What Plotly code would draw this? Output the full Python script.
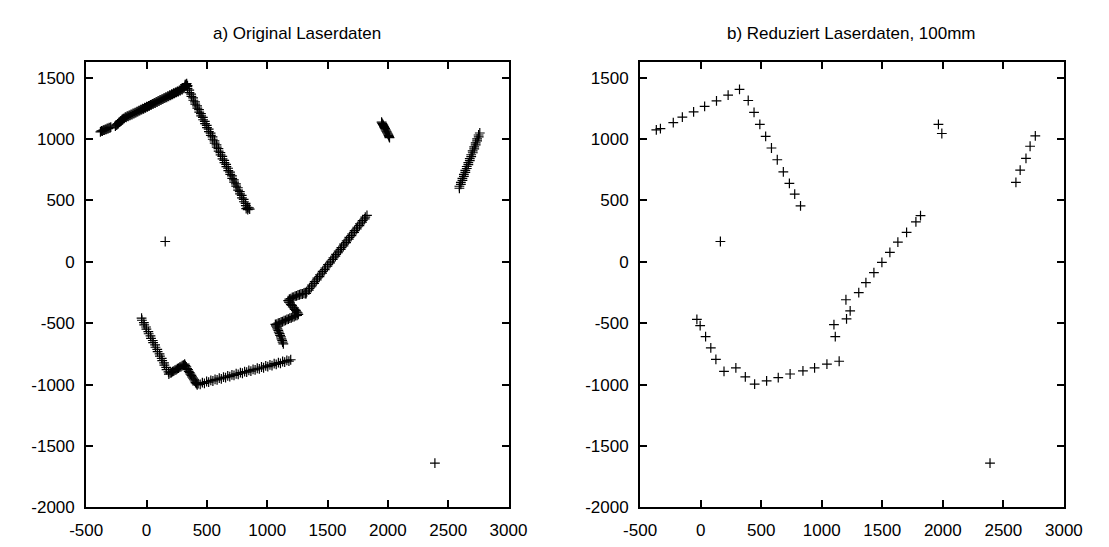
import plotly.graph_objects as go

# ---------------- data ----------------
# a) original laser scan points (dense)
orig_x = [
    # upper left wall
    -382, -374, -366, -358, -350, -342, -334, -326, -318, -310, -302, -296,
    -258, -252, -246, -240, -234, -228, -222, -216, -210, -204, -198, -192, -184, -176,
    -168, -160, -152, -144, -136, -128, -120, -112, -104, -96, -88, -80, -72, -64, -56,
    -48, -40, -32, -24, -16, -8, 0, 8, 16, 24, 32, 40, 48, 56, 64, 72, 80, 88, 96, 104,
    112, 120, 128, 136, 144, 152, 160, 168, 176, 184, 192, 200, 208, 216, 224, 232, 240,
    248, 256, 264, 272, 280, 288, 296, 304, 312, 318, 324, 328, 333, 320, 340,
    # descending wall
    338, 340, 354, 356, 370, 372, 386, 388, 402, 404, 419, 421, 435, 437, 451, 453, 467,
    469, 483, 485, 499, 501, 515, 517, 531, 533, 547, 549, 563, 565, 580, 582, 596, 598,
    612, 614, 628, 630, 644, 646, 660, 662, 676, 678, 692, 694, 708, 710, 724, 726, 741,
    743, 757, 759, 773, 775, 789, 791, 805, 807, 821, 823, 837, 839, 855, 826, 848,
    # lone point
    155,
    # small wall near 2000
    1948, 1953, 1958, 1963, 1968, 1972, 1977, 1982, 1987, 1992, 1997, 2002, 2006, 2010, 2014,
    # right wall
    2593, 2593, 2605, 2605, 2618, 2618, 2630, 2630, 2642, 2642, 2654, 2654, 2667, 2667,
    2679, 2679, 2691, 2691, 2704, 2703, 2716, 2716, 2728, 2728, 2740, 2740, 2753, 2752, 2762,
    # lower left wall
    -41, -38, -22, -19, -4, -1, 15, 18, 33, 37, 52, 55, 71, 74, 89, 92, 108, 111, 126,
    130, 145, 148, 163, 166, 182, 185,
    196, 206, 216, 226, 236, 246, 256, 266, 276, 286, 296, 306, 316,
    322, 330, 336, 344, 350, 358, 364, 372, 378, 386, 392, 400, 406, 414, 420,
    # bottom wall
    428, 445, 463, 480, 498, 515, 533, 550, 568, 585, 603, 620, 638, 655, 673, 690, 708,
    725, 743, 760, 778, 795, 813, 830, 848, 865, 883, 900, 918, 935, 953, 970, 988, 1005,
    1023, 1040, 1058, 1075, 1093, 1110, 1128, 1145, 1163, 1180, 1195,
    # zigzag
    1134, 1128, 1124, 1118, 1114, 1107, 1103, 1096, 1092, 1085, 1080, 1072, 1068,
    1080, 1092, 1104, 1116, 1128, 1140, 1152, 1164, 1176, 1188, 1200, 1212, 1224, 1236,
    1248, 1258,
    1252, 1244, 1238, 1228, 1222, 1212, 1206, 1196, 1190, 1180, 1174,
    1184, 1196, 1208, 1220, 1232, 1244, 1256, 1268, 1280, 1292, 1304, 1316,
    # long diagonal wall
    1323, 1328, 1345, 1350, 1367, 1372, 1389, 1394, 1411, 1416, 1433, 1438, 1455, 1460,
    1477, 1482, 1499, 1504, 1521, 1527, 1543, 1549, 1565, 1571, 1587, 1593, 1609, 1615,
    1632, 1637, 1654, 1659, 1676, 1681, 1698, 1703, 1720, 1725, 1742, 1747, 1764, 1769,
    1786, 1791, 1808, 1813, 1827,
    # lone point
    2390,
]
orig_y = [
    1060, 1068, 1066, 1074, 1073, 1080, 1079, 1087, 1085, 1093, 1092, 1098,
    1106, 1114, 1116, 1125, 1127, 1136, 1138, 1147, 1149, 1158, 1160, 1168, 1170, 1179,
    1177, 1187, 1185, 1194, 1193, 1202, 1200, 1210, 1208, 1217, 1216, 1225, 1224, 1233, 1232,
    1241, 1240, 1249, 1247, 1257, 1255, 1265, 1263, 1272, 1271, 1280, 1279, 1288, 1287, 1296, 1294, 1304, 1302, 1312, 1310,
    1320, 1318, 1327, 1326, 1335, 1334, 1343, 1341, 1351, 1349, 1359, 1357, 1366, 1365, 1374, 1373, 1382,
    1381, 1390, 1388, 1398, 1396, 1406, 1404, 1414, 1420, 1430, 1438, 1446, 1452, 1444, 1436,
    1428, 1412, 1399, 1380, 1367, 1348, 1336, 1317, 1304, 1285, 1272, 1253, 1240, 1221, 1208, 1190, 1177,
    1158, 1145, 1126, 1113, 1094, 1081, 1062, 1049, 1031, 1018, 999, 986, 967, 954, 935, 922, 903,
    890, 872, 859, 840, 827, 808, 795, 776, 763, 744, 731, 713, 700, 681, 668, 649, 636,
    617, 604, 585, 572, 554, 541, 522, 509, 490, 477, 458, 445, 426, 430, 434, 440,
    166,
    1138, 1128, 1120, 1112, 1102, 1094, 1085, 1076, 1066, 1058, 1048, 1040, 1030, 1020, 1012,
    600, 616, 632, 648, 664, 680, 696, 713, 729, 745, 761, 777, 793, 809,
    825, 841, 857, 873, 889, 905, 921, 937, 954, 970, 986, 1002, 1018, 1034, 1050,
    -458, -476, -495, -513, -531, -549, -568, -586, -604, -623, -641, -659, -677, -696, -714, -732, -750, -769, -787,
    -805, -824, -842, -860, -878, -897, -915,
    -905, -902, -894, -890, -882, -878, -870, -866, -858, -854, -846, -842, -834,
    -846, -856, -869, -879, -892, -902, -915, -925, -938, -948, -961, -971, -984, -992, -1002,
    -993, -999, -984, -990, -975, -980, -966, -971, -957, -962, -948, -953, -939, -944, -930, -935, -921,
    -926, -912, -917, -903, -908, -894, -899, -885, -890, -876, -881, -867, -872, -857, -863, -848, -854,
    -839, -845, -830, -836, -821, -827, -812, -818, -803, -809, -798,
    -668, -655, -640, -628, -612, -600, -585, -572, -558, -546, -532, -522, -510,
    -508, -500, -498, -490, -488, -480, -477, -469, -467, -459, -456, -448, -446, -438,
    -436, -428,
    -416, -408, -396, -388, -375, -368, -355, -348, -335, -328, -316,
    -304, -300, -290, -288, -280, -278, -270, -268, -262, -262, -256, -258,
    -258, -244, -230, -216, -203, -189, -175, -161, -147, -133, -120, -106, -92, -78,
    -64, -50, -36, -23, -9, 5, 19, 33, 47, 61, 74, 88, 102, 116,
    130, 144, 157, 171, 185, 199, 213, 227, 240, 254, 268, 282, 296, 310,
    324, 337, 351, 365, 379,
    -1640,
]

# b) reduced laser data (100 mm)
red_x = [
    -366, -332, -226, -151, -58, 33, 131, 227, 321,
    393, 441, 489, 537, 585, 633, 683, 733, 777, 825,
    163,
    1964, 1992,
    2604, 2639, 2687, 2721, 2764,
    -31, -4, 41, 84, 126, 193, 291, 369, 446, 545, 641, 739, 845, 941, 1043, 1144,
    1112, 1101, 1205, 1235, 1200, 1306, 1365, 1431, 1497, 1563, 1629, 1701, 1778, 1816,
    2390,
]
red_y = [
    1075, 1086, 1134, 1179, 1222, 1267, 1312, 1358, 1406,
    1315, 1219, 1120, 1022, 928, 832, 734, 640, 552, 456,
    166,
    1120, 1046,
    648, 747, 843, 942, 1027,
    -469, -520, -610, -701, -794, -893, -864, -938, -997, -970, -944, -914, -888, -864, -834, -810,
    -610, -512, -464, -400, -309, -250, -170, -88, -5, 78, 160, 240, 326, 376,
    -1640,
]

titles = ["a) Original Laserdaten", "b) Reduziert Laserdaten, 100mm"]
x_ticks = [-500, 0, 500, 1000, 1500, 2000, 2500, 3000]
y_ticks = [-2000, -1500, -1000, -500, 0, 500, 1000, 1500]
x_range = [-500, 3000]
y_range = [-2000, 1630]

# ---------------- figure ----------------
W, H = 1109, 547
FONT = "Liberation Sans, Arial, sans-serif"

fig = go.Figure()
marker = dict(symbol="cross-thin", size=7, color="black", line=dict(color="black", width=1.2))
fig.add_trace(go.Scatter(x=orig_x, y=orig_y, mode="markers", marker=marker,
                         xaxis="x", yaxis="y", showlegend=False))
fig.add_trace(go.Scatter(x=red_x, y=red_y, mode="markers", marker=marker,
                         xaxis="x2", yaxis="y2", showlegend=False))

doms_x = [[71.5 / W, 508 / W], [644 / W, 1082 / W]]
dom_y = [1 - 516.7 / H, 1 - 63 / H]

axis_common = dict(
    showline=True, linecolor="black", linewidth=2, mirror="ticks",
    ticks="inside", ticklen=7, tickwidth=2, tickcolor="black",
    showgrid=False, zeroline=False,
    tickfont=dict(family=FONT, size=17, color="black"),
)

layout = dict(
    width=W, height=H,
    margin=dict(l=0, r=0, t=0, b=0),
    paper_bgcolor="white", plot_bgcolor="white",
    showlegend=False,
    annotations=[],
)
for i, key in enumerate(["", "2"]):
    layout["xaxis" + key] = dict(axis_common, domain=doms_x[i], range=x_range,
                                 tickvals=x_ticks, ticktext=[str(v) for v in x_ticks],
                                 anchor="y" + key, ticklabelstandoff=6)
    layout["yaxis" + key] = dict(axis_common, domain=dom_y, range=y_range,
                                 tickvals=y_ticks, ticktext=[str(v) for v in y_ticks],
                                 anchor="x" + key, ticklabelstandoff=6)
    layout["annotations"].append(dict(
        text=titles[i], xref="paper", yref="paper",
        x=(doms_x[i][0] + doms_x[i][1]) / 2, y=1 - 34 / H,
        xanchor="center", yanchor="middle", showarrow=False,
        font=dict(family=FONT, size=17, color="black"),
    ))

fig.update_layout(**layout)
fig.write_html("out.html")
